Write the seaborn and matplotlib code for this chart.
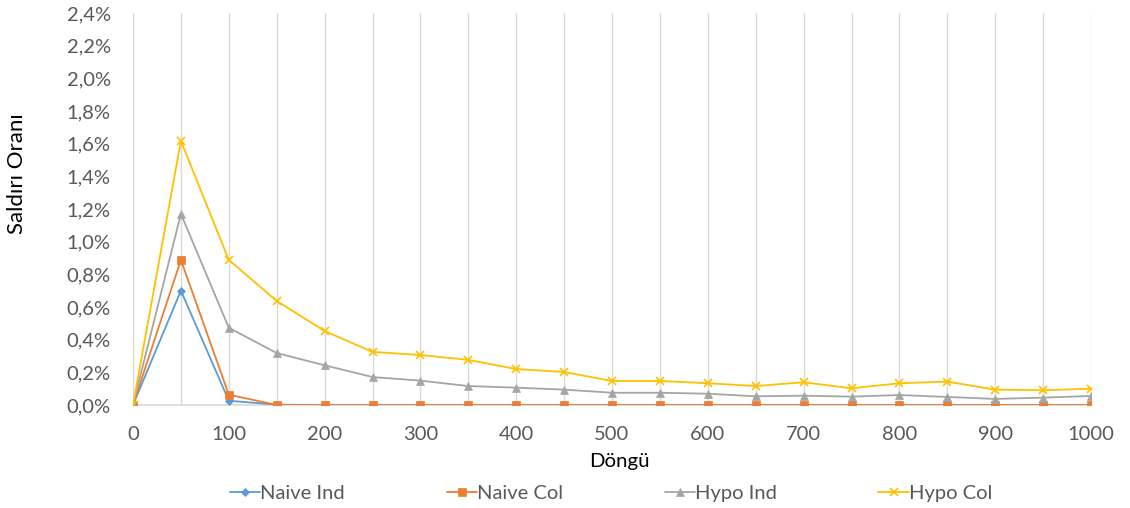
import matplotlib
matplotlib.use("Agg")
import matplotlib.pyplot as plt
from matplotlib.ticker import FuncFormatter, MultipleLocator
import numpy as np
import pandas as pd
import seaborn as sns

# Döngü (iterations)
dongu = [0, 50, 100, 150, 200, 250, 300, 350, 400, 450, 500,
         550, 600, 650, 700, 750, 800, 850, 900, 950, 1000]

# Saldırı oranı (%)
naive_ind = [0.0, 0.70, 0.026, 0.002, 0.0, 0.0, 0.0, 0.0, 0.0, 0.0, 0.0,
             0.0, 0.0, 0.0, 0.0, 0.0, 0.0, 0.0, 0.0, 0.0, 0.0]
naive_col = [0.0, 0.888, 0.063, 0.0, 0.0, 0.0, 0.0, 0.0, 0.0, 0.0, 0.0,
             0.0, 0.0, 0.0, 0.0, 0.0, 0.0, 0.0, 0.0, 0.0, 0.0]
hypo_ind = [0.0, 1.17, 0.473, 0.318, 0.243, 0.171, 0.149, 0.116, 0.106, 0.094, 0.075,
            0.075, 0.069, 0.053, 0.057, 0.051, 0.061, 0.049, 0.037, 0.045, 0.055]
hypo_col = [0.0, 1.617, 0.888, 0.637, 0.453, 0.325, 0.306, 0.276, 0.22, 0.202, 0.147,
            0.147, 0.133, 0.116, 0.139, 0.102, 0.133, 0.143, 0.094, 0.09, 0.10]

series_names = ["Naive Ind", "Naive Col", "Hypo Ind", "Hypo Col"]
series_values = [naive_ind, naive_col, hypo_ind, hypo_col]
colors = ["#5B9BD5", "#ED7D31", "#A5A5A5", "#FFC000"]
markers = ["D", "s", "^", "x"]
marker_sizes = [4, 6, 6, 6]

df = pd.DataFrame({"Döngü": dongu})
for name, vals in zip(series_names, series_values):
    df[name] = vals
long = df.melt(id_vars="Döngü", var_name="Seri", value_name="Oran")

sns.set_theme(style="white")
plt.rcParams["font.family"] = ["Lato", "DejaVu Sans"]

fig = plt.figure(figsize=(11.30, 5.08), dpi=100)
ax = fig.add_axes([0.1177, 0.2028, 0.8478, 0.7716])

text_color = "#595959"
grid_color = "#D9D9D9"

for name, col, mk, ms in zip(series_names, colors, markers, marker_sizes):
    sub = long[long["Seri"] == name]
    sns.lineplot(data=sub, x="Döngü", y="Oran", ax=ax, color=col, marker=mk,
                 markersize=ms, markeredgecolor=col, markerfacecolor=col,
                 markeredgewidth=1.2 if mk == "x" else 0.5,
                 linewidth=1.3, label=name, zorder=3)

ax.set_xlim(0, 1000)
ax.set_ylim(0, 2.4)
ax.xaxis.set_major_locator(MultipleLocator(100))
ax.xaxis.set_minor_locator(MultipleLocator(50))
ax.yaxis.set_major_locator(MultipleLocator(0.2))
ax.yaxis.set_major_formatter(FuncFormatter(lambda v, p: f"{v:.1f}%".replace(".", ",")))

ax.grid(False)
ax.grid(True, axis="x", which="both", color=grid_color, linewidth=1.0, zorder=0)
for s in ["top", "right", "left"]:
    ax.spines[s].set_visible(False)
ax.spines["bottom"].set_color(grid_color)
ax.spines["bottom"].set_linewidth(1.2)

ax.tick_params(axis="both", which="both", length=0, labelsize=14.5, colors=text_color)
ax.tick_params(axis="y", pad=16)
ax.tick_params(axis="x", pad=15)

ax.set_xlabel("Döngü", fontsize=14.7, color="black", va="center")
ax.xaxis.set_label_coords(0.508, -0.145)
ax.set_ylabel("Saldırı Oranı", fontsize=16, color="black", va="center")
ax.yaxis.set_label_coords(-0.121, 0.589)

leg = ax.legend(loc="center", bbox_to_anchor=(0.499, -0.226), ncol=4, frameon=False,
                fontsize=14.5, handlelength=1.5, handletextpad=0.0, columnspacing=5.05)
for t in leg.get_texts():
    t.set_color(text_color)

fig.savefig("out.png", dpi=100)
